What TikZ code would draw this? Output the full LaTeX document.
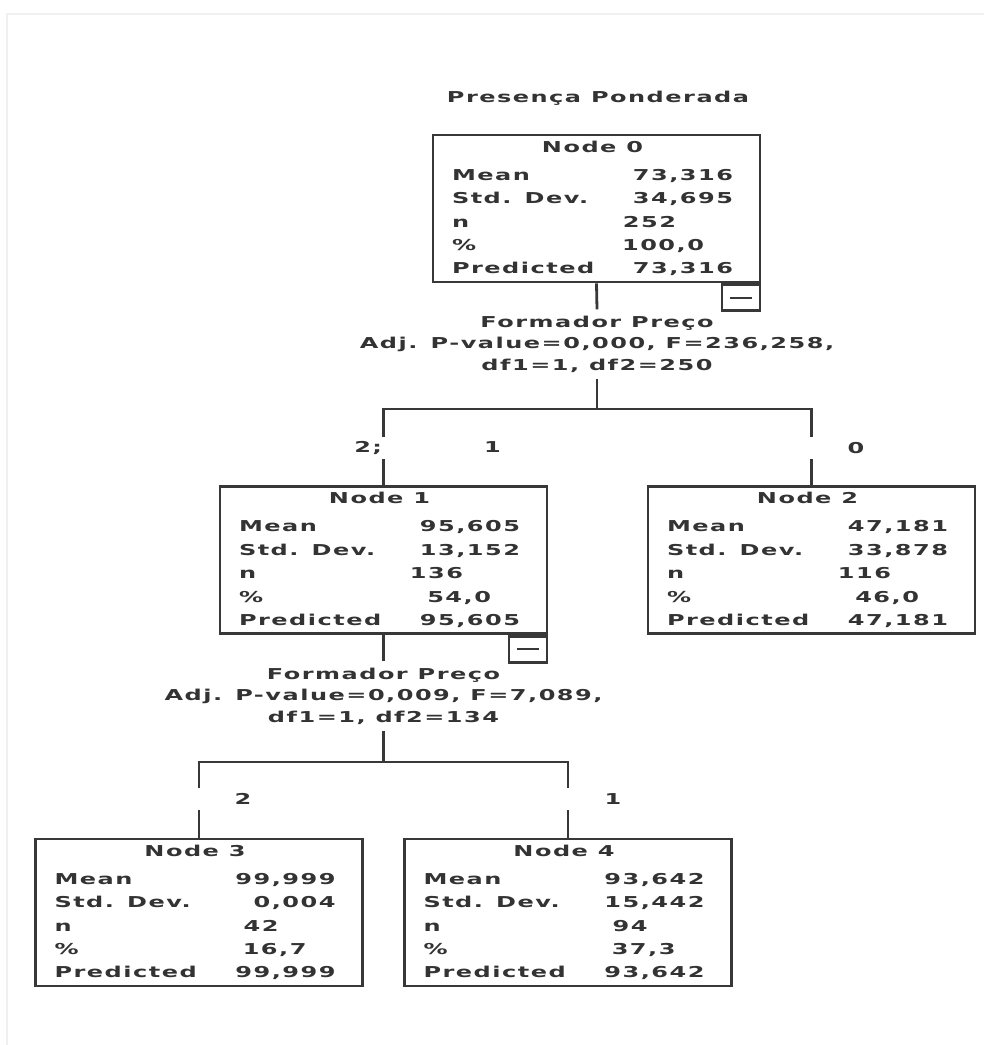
\documentclass[tikz,border=0pt]{standalone}
\usepackage{fontspec}
\newfontfamily\spss[FakeStretch=1.6,LetterSpace=10]{DejaVu Sans Bold}
\usetikzlibrary{positioning}

\definecolor{treeline}{gray}{0.22}
\definecolor{treetext}{gray}{0.2}

\begin{document}
\begin{tikzpicture}[
        x=0.5pt, y=-0.5pt,
        every node/.style={text=treetext, font=\spss\fontsize{7.5pt}{11.7pt}\selectfont},
        statbox/.style={rectangle, draw=treeline, line width=1.4pt, minimum width=163.5pt, minimum height=73.5pt, inner sep=0pt},
        split/.style={align=center, inner xsep=0pt, inner ysep=3pt, font=\spss\fontsize{7.5pt}{10.75pt}\selectfont},
        branch/.style={inner sep=0pt, minimum height=11pt},
        collapse/.style={rectangle, draw=treeline, line width=1.4pt, minimum width=19pt, minimum height=13pt, inner sep=0pt},
        link/.style={draw=treeline, line width=1.4pt}
    ]
    \useasboundingbox (0,0) rectangle (984,1045);
    \draw[gray!12, line width=1pt] (7,1045) -- (7,14) -- (984,14);

    % Title
    \node (t0) at (598,98) {Presença Ponderada};

    % Node 0: root
    \node [statbox] (n0) at (596.5,208.5) {\begin{tabular*}{144.5pt}{@{}l@{\extracolsep{\fill}}r@{\hspace{4pt}}}
        \multicolumn{2}{@{}c@{\hspace{4pt}}}{Node 0}\\[2.3pt]
        Mean & 73,316\\
        Std. Dev. & 34,695\\
        n & 252\makebox[28.5pt]{}\\
        \% & 100,0\makebox[14.5pt]{}\\
        Predicted & 73,316
    \end{tabular*}};
    \node [collapse, anchor=north east] (c0) at (n0.south east) {\color{treeline}\rule{11pt}{1.1pt}};

    % First split
    \node [split] (s0) at (597,344) {Formador Preço\\Adj. P-value=0,000, F=236,258,\\df1=1, df2=250};
    \coordinate (j0) at (597,409);
    \node [branch] (b1) at (427.5,448) {2;\hspace{51pt}1};
    \node [branch] (b2) at (856,448) {0};

    % Node 1 and Node 2
    \node [statbox] (n1) at (383.5,560) {\begin{tabular*}{144.5pt}{@{}l@{\extracolsep{\fill}}r@{\hspace{4pt}}}
        \multicolumn{2}{@{}c@{\hspace{4pt}}}{Node 1}\\[2.3pt]
        Mean & 95,605\\
        Std. Dev. & 13,152\\
        n & 136\makebox[28.5pt]{}\\
        \% & 54,0\makebox[14.5pt]{}\\
        Predicted & 95,605
    \end{tabular*}};
    \node [collapse, anchor=north east] (c1) at (n1.south east) {\color{treeline}\rule{11pt}{1.1pt}};
    \node [statbox] (n2) at (811.5,560) {\begin{tabular*}{144.5pt}{@{}l@{\extracolsep{\fill}}r@{\hspace{4pt}}}
        \multicolumn{2}{@{}c@{\hspace{4pt}}}{Node 2}\\[2.3pt]
        Mean & 47,181\\
        Std. Dev. & 33,878\\
        n & 116\makebox[28.5pt]{}\\
        \% & 46,0\makebox[14.5pt]{}\\
        Predicted & 47,181
    \end{tabular*}};

    % Second split
    \node [split] (s1) at (383.5,696) {Formador Preço\\Adj. P-value=0,009, F=7,089,\\df1=1, df2=134};
    \coordinate (j1) at (383.5,762);
    \node [branch] (b3) at (243,799) {2};
    \node [branch] (b4) at (613,799) {1};

    % Node 3 and Node 4
    \node [statbox] (n3) at (199,912.5) {\begin{tabular*}{144.5pt}{@{}l@{\extracolsep{\fill}}r@{\hspace{4pt}}}
        \multicolumn{2}{@{}c@{\hspace{4pt}}}{Node 3}\\[2.3pt]
        Mean & 99,999\\
        Std. Dev. & 0,004\\
        n & 42\makebox[28.5pt]{}\\
        \% & 16,7\makebox[14.5pt]{}\\
        Predicted & 99,999
    \end{tabular*}};
    \node [statbox] (n4) at (568,912.5) {\begin{tabular*}{144.5pt}{@{}l@{\extracolsep{\fill}}r@{\hspace{4pt}}}
        \multicolumn{2}{@{}c@{\hspace{4pt}}}{Node 4}\\[2.3pt]
        Mean & 93,642\\
        Std. Dev. & 15,442\\
        n & 94\makebox[28.5pt]{}\\
        \% & 37,3\makebox[14.5pt]{}\\
        Predicted & 93,642
    \end{tabular*}};

    % Connecting lines
    \draw [link] (n0.south) -- (s0.north);
    \draw [link] (s0.south) -- (j0);
    \draw [link] (n1.north |- b1.north) -- (n1.north |- j0) -- (n2.north |- j0) -- (n2.north |- b2.north);
    \draw [link] (n1.north |- b1.south) -- (n1.north);
    \draw [link] (n2.north |- b2.south) -- (n2.north);

    \draw [link] (n1.south) -- (s1.north);
    \draw [link] (s1.south) -- (j1);
    \draw [link] (n3.north |- b3.north) -- (n3.north |- j1) -- (n4.north |- j1) -- (n4.north |- b4.north);
    \draw [link] (n3.north |- b3.south) -- (n3.north);
    \draw [link] (n4.north |- b4.south) -- (n4.north);

\end{tikzpicture}
\end{document}
